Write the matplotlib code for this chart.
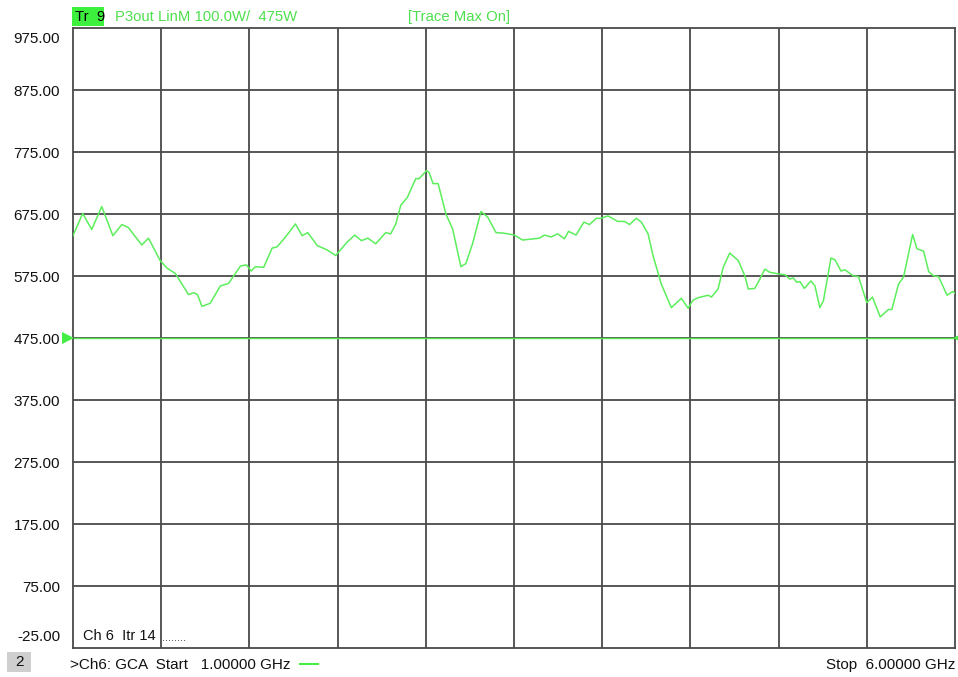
import matplotlib
matplotlib.use("Agg")
import matplotlib.pyplot as plt
from matplotlib.patches import Rectangle

# ---- data ----
freq_ghz = [1.000, 1.055, 1.106, 1.163, 1.226, 1.277, 1.314, 1.390, 1.428, 1.494,
            1.532, 1.580, 1.655, 1.684, 1.706, 1.731, 1.778, 1.835, 1.882, 1.949,
            1.983, 2.010, 2.034, 2.081, 2.129, 2.157, 2.205, 2.261, 2.299, 2.331,
            2.385, 2.441, 2.489, 2.555, 2.597, 2.635, 2.672, 2.716, 2.773, 2.801,
            2.830, 2.858, 2.896, 2.943, 2.962, 3.004, 3.019, 3.041, 3.070, 3.114,
            3.152, 3.199, 3.227, 3.265, 3.313, 3.351, 3.398, 3.445, 3.502, 3.549,
            3.644, 3.672, 3.710, 3.748, 3.786, 3.809, 3.852, 3.896, 3.928, 3.966,
            3.994, 4.032, 4.089, 4.127, 4.155, 4.193, 4.222, 4.260, 4.288, 4.335,
            4.392, 4.449, 4.487, 4.515, 4.544, 4.601, 4.619, 4.657, 4.686, 4.723,
            4.771, 4.809, 4.828, 4.865, 4.894, 4.922, 4.950, 5.007, 5.036, 5.064,
            5.083, 5.102, 5.121, 5.146, 5.183, 5.206, 5.234, 5.254, 5.297, 5.320,
            5.354, 5.376, 5.424, 5.453, 5.500, 5.532, 5.576, 5.623, 5.642, 5.680,
            5.708, 5.760, 5.784, 5.822, 5.851, 5.879, 5.907, 5.955, 5.987, 6.000]
p3out_w = [640, 676, 650, 687, 640, 658, 653, 625, 636, 600,
           588, 579, 545, 548, 545, 526, 531, 559, 563, 591,
           593, 583, 590, 589, 620, 622, 638, 659, 640, 645,
           624, 617, 608, 630, 641, 632, 636, 627, 645, 643,
           659, 689, 702, 732, 732, 745, 742, 724, 724, 675,
           651, 590, 595, 627, 679, 670, 645, 644, 641, 633,
           636, 641, 638, 643, 635, 647, 641, 662, 658, 668,
           668, 672, 663, 663, 658, 668, 662, 643, 608, 562,
           524, 539, 523, 536, 540, 544, 541, 554, 589, 612,
           600, 575, 554, 555, 570, 586, 581, 578, 577, 570,
           572, 565, 566, 555, 567, 559, 524, 535, 604, 601,
           583, 585, 575, 574, 532, 541, 509, 521, 521, 562,
           573, 642, 619, 615, 582, 575, 574, 544, 550, 547]
ref_value = 475
y_ticks = [975, 875, 775, 675, 575, 475, 375, 275, 175, 75, -25]
y_tick_labels = ["975.00", "875.00", "775.00", "675.00", "575.00", "475.00",
                 "375.00", "275.00", "175.00", "75.00", "-25.00"]
start_ghz, stop_ghz = 1.0, 6.0

FONT = ["Liberation Sans", "DejaVu Sans"]
plt.rcParams["font.family"] = FONT

W, H = 958, 677
fig = plt.figure(figsize=(W / 100, H / 100), dpi=100)
fig.patch.set_facecolor("white")
ax = fig.add_axes([73 / W, 1 - 648 / H, 882 / W, 620 / H])
ax.set_xlim(start_ghz, stop_ghz)
ax.set_ylim(-25, 975)

grid_c = "#4a4a4a"
xs = [start_ghz + i * (stop_ghz - start_ghz) / 10 for i in range(11)]
for x in xs[1:-1]:
    ax.axvline(x, color=grid_c, lw=1.3, zorder=1)
for y in y_ticks[1:-1]:
    ax.axhline(y, color=grid_c, lw=1.3, zorder=1)
for s in ax.spines.values():
    s.set_color(grid_c)
    s.set_linewidth(1.3)

ax.set_xticks([])
ax.set_yticks([])
for i, (yv, lab) in enumerate(zip(y_ticks, y_tick_labels)):
    dy = -2
    if i == 0:
        dy = -11
    elif i == len(y_ticks) - 1:
        dy = 11
    ax.annotate(lab, xy=(0, yv), xycoords=ax.get_yaxis_transform(),
                xytext=(-13, dy), textcoords="offset pixels",
                ha="right", va="center", fontsize=11, color="#111111",
                annotation_clip=False)

# reference line
ax.axhline(ref_value, color="#55e855", lw=1.0, zorder=2)
ax.plot([start_ghz - 5 / 176], [ref_value], marker=">", ms=9, color="#44ee44",
        clip_on=False, zorder=5, markeredgewidth=0)
ax.plot([stop_ghz + 1 / 176], [ref_value], marker="<", ms=4, color="#44ee44",
        clip_on=False, zorder=5, markeredgewidth=0)

# trace
ax.plot(freq_ghz, p3out_w, color="#5cee5c", lw=1.1, zorder=3)

# header
fig.patches.append(Rectangle((72 / W, 1 - 26 / H), 32 / W, 19 / H,
                             transform=fig.transFigure, facecolor="#3ef03e",
                             edgecolor="none"))
fig.text(75 / W, 1 - 17 / H, "Tr  9", fontsize=10.7, color="black", va="center")
fig.text(115 / W, 1 - 17 / H, "P3out LinM 100.0W/  475W", fontsize=10.7,
         color="#4ee04e", va="center")
fig.text(408 / W, 1 - 17 / H, "[Trace Max On]", fontsize=10.7,
         color="#4ee04e", va="center")

# in-plot channel label
fig.text(83 / W, 1 - 636 / H, "Ch 6  Itr 14", fontsize=10.5, color="#111111",
         va="center")
fig.text(162 / W, 1 - 638 / H, "........", fontsize=8, color="#333333",
         va="center")

# footer
fig.patches.append(Rectangle((7 / W, 1 - 672 / H), 24 / W, 20 / H,
                             transform=fig.transFigure, facecolor="#cfcfcf",
                             edgecolor="none"))
fig.text(19 / W, 1 - 662 / H, "2", fontsize=11, color="#111111",
         va="center", ha="center")
fig.text(70 / W, 1 - 665 / H, ">Ch6: GCA  Start   1.00000 GHz", fontsize=11,
         color="#111111", va="center")
fig.add_artist(plt.Line2D([300 / W, 318 / W], [1 - 664 / H, 1 - 664 / H],
                          transform=fig.transFigure, color="#44ee44", lw=1.5))
fig.text(955 / W, 1 - 665 / H, "Stop  6.00000 GHz", fontsize=11,
         color="#111111", va="center", ha="right")

fig.savefig("out.png", dpi=100)
